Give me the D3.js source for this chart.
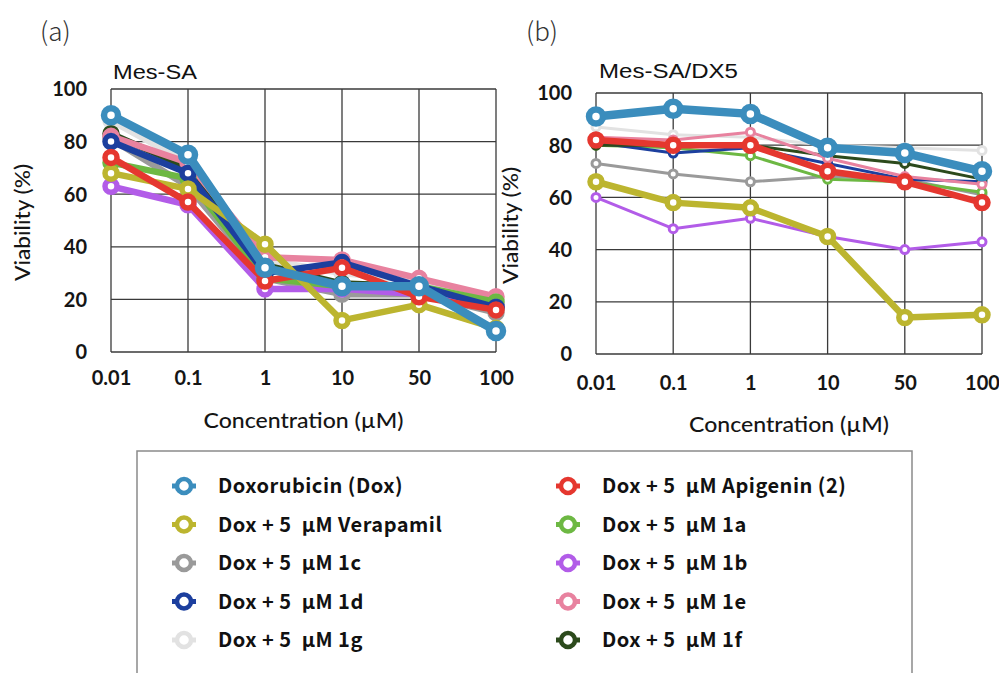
<!DOCTYPE html>
<html><head><meta charset="utf-8">
<script src="https://cdn.jsdelivr.net/npm/d3@7"></script>
<style>body{margin:0;background:#fff}svg{display:block}</style>
</head><body>
<svg id="c" width="999" height="673"></svg>
<script>
// ---- data ----
const concentrations = ["0.01", "0.1", "1", "10", "50", "100"];
const yTicks = [0, 20, 40, 60, 80, 100];
const seriesNames = ["Doxorubicin (Dox)", "Dox + 5\u00a0 \u03bcM Verapamil", "Dox + 5\u00a0 \u03bcM 1c", "Dox + 5\u00a0 \u03bcM 1d", "Dox + 5\u00a0 \u03bcM 1g",
  "Dox + 5\u00a0 \u03bcM Apigenin (2)", "Dox + 5\u00a0 \u03bcM 1a", "Dox + 5\u00a0 \u03bcM 1b", "Dox + 5\u00a0 \u03bcM 1e", "Dox + 5\u00a0 \u03bcM 1f"];
const seriesKeys = ["dox", "vera", "c1c", "c1d", "c1g", "api", "c1a", "c1b", "c1e", "c1f"];
const seriesColors = ["#3b8dbd", "#bcb52f", "#9a9a9a", "#1c3f9e", "#e2e2e2", "#e5372f", "#6db843", "#b25ce8", "#e8829f", "#2c4a1c"];

// Mes-SA viability (%)
const mesSA_dox  = [90, 75, 32, 25, 25, 8];
const mesSA_vera = [68, 62, 41, 12, 18, 9];
const mesSA_c1c  = [81, 63, 28, 22, 22, 15];
const mesSA_c1d  = [80, 68, 30, 34, 25, 17];
const mesSA_c1g  = [88, 72, 35, 30, 27, 20];
const mesSA_api  = [74, 57, 27, 32, 21, 16];
const mesSA_c1a  = [72, 66, 28, 25, 25, 19];
const mesSA_c1b  = [63, 56, 24, 24, 22, 18];
const mesSA_c1e  = [82, 72, 36, 35, 28, 21];
const mesSA_c1f  = [83, 70, 33, 26, 25, 17];

// Mes-SA/DX5 viability (%)
const dx5_dox  = [91, 94, 92, 79, 77, 70];
const dx5_vera = [66, 58, 56, 45, 14, 15];
const dx5_c1c  = [73, 69, 66, 68, 67, 61];
const dx5_c1d  = [81, 77, 79, 73, 67, 66];
const dx5_c1g  = [87, 84, 83, 80, 79, 78];
const dx5_api  = [82, 80, 80, 70, 66, 58];
const dx5_c1a  = [80, 79, 76, 67, 66, 62];
const dx5_c1b  = [60, 48, 52, 45, 40, 43];
const dx5_c1e  = [83, 82, 85, 75, 68, 65];
const dx5_c1f  = [80, 80, 80, 76, 73, 67];

const mesSA = {dox: mesSA_dox, vera: mesSA_vera, c1c: mesSA_c1c, c1d: mesSA_c1d, c1g: mesSA_c1g, api: mesSA_api, c1a: mesSA_c1a, c1b: mesSA_c1b, c1e: mesSA_c1e, c1f: mesSA_c1f};
const dx5 = {dox: dx5_dox, vera: dx5_vera, c1c: dx5_c1c, c1d: dx5_c1d, c1g: dx5_c1g, api: dx5_api, c1a: dx5_c1a, c1b: dx5_c1b, c1e: dx5_c1e, c1f: dx5_c1f};

const svg = d3.select("#c");
const tickFont = "Lato, 'Open Sans', sans-serif";

function panel(opts) {
  const {x0, x1, y0, y1, data, title, letter, letterX, titleX, titleY, thin, order} = opts;
  const x = d3.scalePoint().domain(concentrations).range([x0, x1]);
  const y = d3.scaleLinear().domain([0, 100]).range([y1, y0]);
  const g = svg.append("g");

  // grid
  g.selectAll(".vg").data(concentrations).join("line")
    .attr("x1", d => x(d)).attr("x2", d => x(d)).attr("y1", y0).attr("y2", y1)
    .attr("stroke", "#3a3a3a").attr("stroke-width", 1.3);
  g.selectAll(".hg").data(yTicks).join("line")
    .attr("x1", x0).attr("x2", x1).attr("y1", d => y(d)).attr("y2", d => y(d))
    .attr("stroke", "#3a3a3a").attr("stroke-width", 1.3);

  // axes (labels only)
  const ya = g.append("g").attr("transform", `translate(${x0 - 24},0)`)
    .call(d3.axisLeft(y).tickValues(yTicks).tickSize(0).tickPadding(0));
  ya.select(".domain").remove();
  ya.selectAll("text").attr("font-family", tickFont).attr("font-weight", 700).attr("font-size", 20).attr("fill", "#151515").attr("dy", "0.34em");

  const xa = g.append("g").attr("transform", `translate(0,${opts.xTickY})`)
    .call(d3.axisBottom(x).tickSize(0).tickPadding(0));
  xa.select(".domain").remove();
  xa.selectAll("text").attr("font-family", tickFont).attr("font-weight", 700).attr("font-size", 20).attr("fill", "#151515").attr("dy", "0.34em");

  const line = d3.line().x((d, i) => x(concentrations[i])).y(d => y(d));
  const thick = new Set(["dox", "api", "vera"]);
  order.forEach(k => {
    const idx = seriesKeys.indexOf(k);
    const col = seriesColors[idx];
    const big = thick.has(k) || !thin;
    const lw = k === "dox" ? 8.5 : (big ? 6.5 : 3);
    const r = k === "dox" ? 7 : (big ? 6 : 4);
    const sw = k === "dox" ? 6.5 : (big ? 5.5 : 3);
    const sg = g.append("g");
    sg.append("path").datum(data[k]).attr("d", line).attr("fill", "none")
      .attr("stroke", col).attr("stroke-width", lw).attr("stroke-linejoin", "round");
    sg.selectAll("circle").data(data[k]).join("circle")
      .attr("cx", (d, i) => x(concentrations[i])).attr("cy", d => y(d))
      .attr("r", r).attr("fill", "#fff").attr("stroke", col).attr("stroke-width", sw);
  });

  svg.append("text").attr("x", titleX).attr("y", titleY).text(title)
    .attr("font-family", "'Liberation Sans', Arial, sans-serif").attr("font-size", 20)
    .attr("textLength", opts.titleW).attr("lengthAdjust", "spacingAndGlyphs").attr("fill", "#111");
  svg.append("text").attr("x", letterX).attr("y", 41).text(letter)
    .attr("font-family", "'Noto Sans CJK JP', sans-serif").attr("font-weight", 300).attr("font-size", 26).attr("fill", "#333");
  svg.append("text").attr("transform", `translate(${opts.vyX},${(y0 + y1) / 2 + 2}) rotate(-90)`)
    .attr("text-anchor", "middle").attr("dy", "0.35em").text("Viability (%)")
    .attr("font-family", tickFont).attr("font-size", 21).attr("font-weight", 500)
    .attr("textLength", 117).attr("lengthAdjust", "spacingAndGlyphs").attr("fill", "#151515");
  svg.append("text").attr("x", (x0 + x1) / 2).attr("y", opts.xLabY).attr("text-anchor", "middle").attr("dy", "0.35em")
    .text("Concentration (\u00b5M)").attr("font-family", tickFont).attr("font-size", 21).attr("font-weight", 500)
    .attr("textLength", 200).attr("lengthAdjust", "spacingAndGlyphs").attr("fill", "#151515");
}

panel({x0: 111, x1: 496, y0: 89, y1: 352, data: mesSA, title: "Mes-SA", titleX: 113, titleY: 79, titleW: 84,
  letter: "(a)", letterX: 40, xTickY: 378, xLabY: 421, vyX: 23, thin: false,
  order: ["c1g", "c1f", "c1c", "c1e", "c1b", "c1a", "c1d", "vera", "api", "dox"]});
panel({x0: 596, x1: 982, y0: 93, y1: 354, data: dx5, title: "Mes-SA/DX5", titleX: 599, titleY: 78, titleW: 139,
  letter: "(b)", letterX: 526, xTickY: 383, xLabY: 425, vyX: 511, thin: true,
  order: ["c1g", "c1c", "c1b", "c1a", "c1d", "c1f", "c1e", "vera", "api", "dox"]});

// legend
const lg = svg.append("g");
lg.append("rect").attr("x", 137).attr("y", 451).attr("width", 775).attr("height", 240)
  .attr("fill", "#fff").attr("stroke", "#8a8a8a").attr("stroke-width", 1.5);
seriesNames.forEach((name, i) => {
  const col = Math.floor(i / 5), row = i % 5;
  const mx = col === 0 ? 184 : 568;
  const ty = 486 + row * 38.5;
  lg.append("line").attr("x1", mx - 12).attr("x2", mx + 12).attr("y1", ty).attr("y2", ty)
    .attr("stroke", seriesColors[i]).attr("stroke-width", 5);
  lg.append("circle").attr("cx", mx).attr("cy", ty).attr("r", 7).attr("fill", "#fff")
    .attr("stroke", seriesColors[i]).attr("stroke-width", 4.5);
  lg.append("text").attr("x", mx + 34).attr("y", ty).attr("dy", "0.36em").text(name)
    .attr("font-family", "'Noto Sans CJK JP', sans-serif").attr("font-weight", 700)
    .attr("font-size", 20).attr("letter-spacing", 0.5).attr("fill", "#111");
});
</script>
</body></html>
